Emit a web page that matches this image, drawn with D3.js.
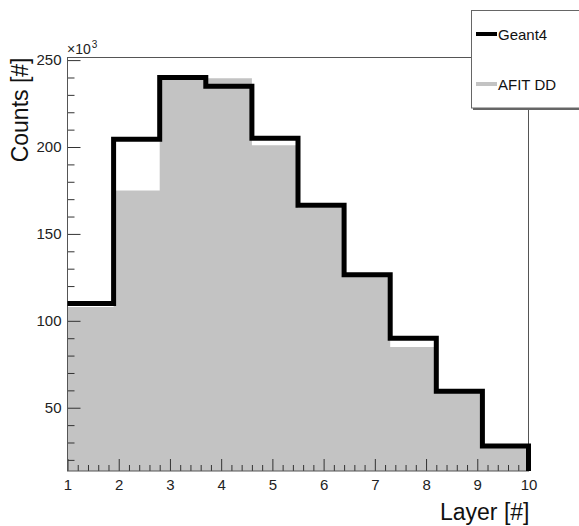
<!DOCTYPE html>
<html>
<head>
<meta charset="utf-8">
<script src="https://cdn.jsdelivr.net/npm/d3@7"></script>
<style>
  body { margin: 0; background: #fff; }
  svg { display: block; font-family: "Liberation Sans", Arial, Helvetica, sans-serif; }
</style>
</head>
<body>
<svg></svg>
<script>
// layer bins (edges) and counts in units of 10^3
var binEdges = [1, 1.9, 2.8, 3.7, 4.6, 5.5, 6.4, 7.3, 8.2, 9.1, 10];
var geant4 = [110, 204.5, 240, 235, 205, 166.5, 126.5, 90, 59.5, 28];
var afitDD = [108, 175, 238.5, 239.5, 201, 165, 125.5, 85, 58.5, 27];
var xTicks = [1, 2, 3, 4, 5, 6, 7, 8, 9, 10];
var yTicks = [50, 100, 150, 200, 250];
var seriesNames = ["Geant4", "AFIT DD"];

var svgWidth = 579;
var svgHeight = 526;
var plotLeft = 67.5, plotRight = 528.5, plotTop = 57.5, plotBottom = 471;

var svg = d3.select("svg")
    .attr("width", svgWidth)
    .attr("height", svgHeight);

var x = d3.scaleLinear().domain([1, 10]).range([plotLeft, plotRight]);
var y = d3.scaleLinear().domain([13.6, 251.5]).range([plotBottom, plotTop]);

// step points: one per bin plus the closing edge
function stepPoints(vals) {
  var pts = vals.map(function (v, i) { return [binEdges[i], v]; });
  pts.push([binEdges[binEdges.length - 1], vals[vals.length - 1]]);
  return pts;
}

// AFIT DD filled histogram
var area = d3.area()
    .curve(d3.curveStepAfter)
    .x(function (d) { return x(d[0]); })
    .y0(plotBottom)
    .y1(function (d) { return y(d[1]); });

svg.append("path")
    .datum(stepPoints(afitDD))
    .attr("d", area)
    .attr("fill", "#c3c3c3");

// minor ticks
var xMinor = d3.range(1, 10.001, 0.2).filter(function (v) { return Math.abs(v - Math.round(v)) > 0.01; });
var yMinor = d3.range(20, 251, 10).filter(function (v) { return v % 50 !== 0; });

svg.append("g")
    .attr("transform", "translate(0," + plotBottom + ")")
    .call(d3.axisBottom(x).tickValues(xMinor).tickSize(-6).tickFormat(""))
    .call(function (g) { g.select(".domain").remove(); })
    .selectAll("line").attr("stroke", "#333");

svg.append("g")
    .attr("transform", "translate(" + plotLeft + ",0)")
    .call(d3.axisLeft(y).tickValues(yMinor).tickSize(-7).tickFormat(""))
    .call(function (g) { g.select(".domain").remove(); })
    .selectAll("line").attr("stroke", "#333");

// major ticks + labels
var xAxis = svg.append("g")
    .attr("transform", "translate(0," + plotBottom + ")")
    .call(d3.axisBottom(x).tickValues(xTicks).tickSize(-12).tickPadding(8).tickFormat(d3.format("d")));
xAxis.select(".domain").remove();
xAxis.selectAll("line").attr("stroke", "#333");
xAxis.selectAll("text").attr("font-size", 15).attr("fill", "#222")
    .attr("font-family", "Liberation Sans, Arial, sans-serif");

var yAxis = svg.append("g")
    .attr("transform", "translate(" + plotLeft + ",0)")
    .call(d3.axisLeft(y).tickValues(yTicks).tickSize(-13).tickPadding(6).tickFormat(d3.format("d")));
yAxis.select(".domain").remove();
yAxis.selectAll("line").attr("stroke", "#333");
yAxis.selectAll("text").attr("font-size", 15).attr("fill", "#222")
    .attr("font-family", "Liberation Sans, Arial, sans-serif");

// frame
svg.append("rect")
    .attr("x", plotLeft).attr("y", plotTop)
    .attr("width", plotRight - plotLeft).attr("height", plotBottom - plotTop)
    .attr("fill", "none")
    .attr("stroke", "#555")
    .attr("stroke-width", 1);

// Geant4 outline histogram
var pts = stepPoints(geant4);
pts.push([binEdges[binEdges.length - 1], y.domain()[0]]);
var line = d3.line()
    .curve(d3.curveStepAfter)
    .x(function (d) { return x(d[0]); })
    .y(function (d) { return y(d[1]); });

svg.append("path")
    .datum(pts)
    .attr("d", line)
    .attr("fill", "none")
    .attr("stroke", "#000")
    .attr("stroke-width", 5)
    .attr("stroke-linejoin", "miter");

// exponent label
var expo = svg.append("text")
    .attr("x", 67)
    .attr("y", 53.5)
    .attr("font-size", 14)
    .attr("fill", "#222");
expo.append("tspan").text("\u00d710");
expo.append("tspan").attr("font-size", 10).attr("dx", 1).attr("dy", -6).text("3");

// axis titles
svg.append("text")
    .attr("transform", "translate(28," + plotTop + ") rotate(-90)")
    .attr("text-anchor", "end")
    .attr("font-size", 23)
    .attr("fill", "#111")
    .text("Counts [#]");

svg.append("text")
    .attr("x", plotRight + 1)
    .attr("y", 520)
    .attr("text-anchor", "end")
    .attr("font-size", 23)
    .attr("fill", "#111")
    .text("Layer [#]");

// legend
var legend = svg.append("g");
legend.append("rect")
    .attr("x", 471.5).attr("y", 10.5)
    .attr("width", 130).attr("height", 97.5)
    .attr("fill", "#fff")
    .attr("stroke", "#666")
    .attr("stroke-width", 1);
legend.append("line")
    .attr("x1", 473).attr("x2", 600)
    .attr("y1", 109).attr("y2", 109)
    .attr("stroke", "#666").attr("stroke-width", 2);

var legendColors = ["#000", "#c3c3c3"];
var legendY = [34, 84];
seriesNames.forEach(function (name, i) {
  legend.append("line")
      .attr("x1", 476).attr("x2", 497)
      .attr("y1", legendY[i]).attr("y2", legendY[i])
      .attr("stroke", legendColors[i])
      .attr("stroke-width", 4);
  legend.append("text")
      .attr("x", 498)
      .attr("y", legendY[i] + 5.5)
      .attr("font-size", 15)
      .attr("fill", "#111")
      .text(name);
});
</script>
</body>
</html>
